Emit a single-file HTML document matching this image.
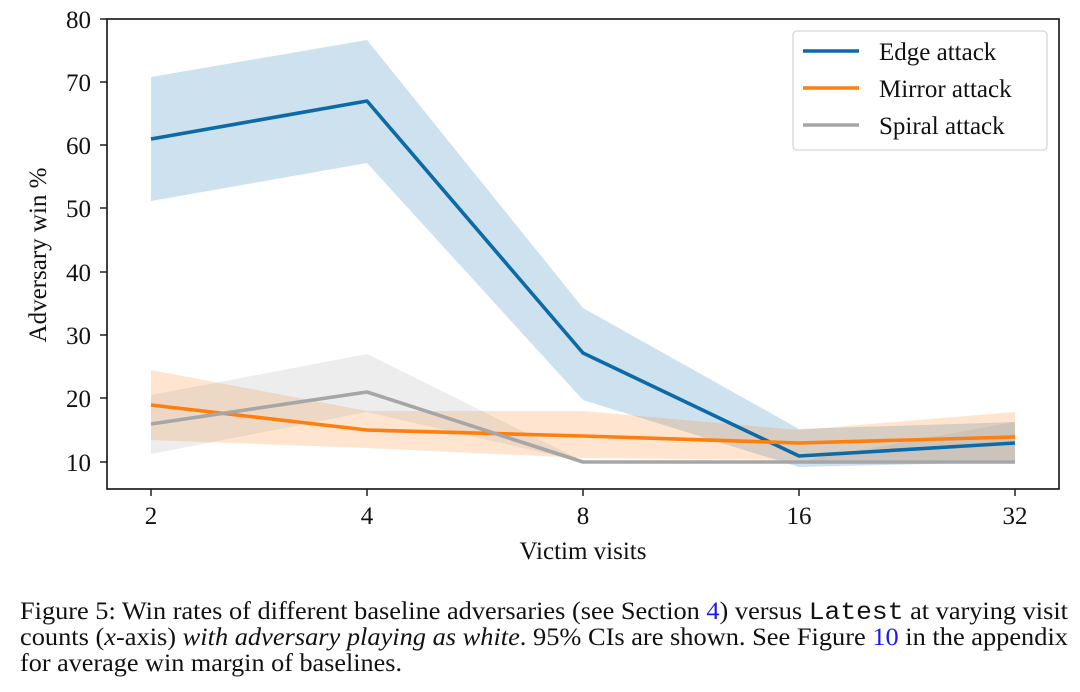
<!DOCTYPE html>
<html><head><style>body{margin:0;background:#fff}svg{display:block}svg text{font-family:"Liberation Serif",serif}</style></head><body>
<svg width="1080" height="692" xmlns="http://www.w3.org/2000/svg" fill="#111">
<g stroke="none">
<polygon fill="#1f77b4" fill-opacity="0.22" points="151,77 367,40 583,308 799,429 1015,422 1015,462 799,467 583,400 367,163 151,201"/>
<polygon fill="#ff7f0e" fill-opacity="0.2" points="151,370 367,411 583,411 799,430 1015,412 1015,460 799,460 583,458 367,448 151,440"/>
<polygon fill="#999" fill-opacity="0.18" points="151,395 367,354 583,461 799,461 1015,422 1015,462 799,462 583,462 367,412 151,454"/>
</g>
<g fill="none" stroke-width="3.6" stroke-linejoin="round">
<polyline stroke="#0c6aa6" points="151,139 367,101 583,353 799,456 1015,443"/>
<polyline stroke="#ff7f0e" points="151,405 367,430 583,436 799,443 1015,437"/>
<polyline stroke="#a6a6a6" points="151,424 367,392 583,462 799,462 1015,462"/>
</g>
<rect x="107" y="19" width="952" height="470" fill="none" stroke="#111" stroke-width="1.6"/>
<g stroke="#111" stroke-width="1.4">
<line x1="100" y1="19" x2="107" y2="19"/><line x1="100" y1="82" x2="107" y2="82"/><line x1="100" y1="145" x2="107" y2="145"/><line x1="100" y1="208" x2="107" y2="208"/><line x1="100" y1="272" x2="107" y2="272"/><line x1="100" y1="335" x2="107" y2="335"/><line x1="100" y1="398" x2="107" y2="398"/><line x1="100" y1="462" x2="107" y2="462"/>
<line x1="151" y1="489" x2="151" y2="496"/><line x1="367" y1="489" x2="367" y2="496"/><line x1="583" y1="489" x2="583" y2="496"/><line x1="799" y1="489" x2="799" y2="496"/><line x1="1015" y1="489" x2="1015" y2="496"/>
</g>
<g font-size="25" text-anchor="end">
<text x="91" y="28">80</text><text x="91" y="91">70</text><text x="91" y="154">60</text><text x="91" y="217">50</text><text x="91" y="281">40</text><text x="91" y="344">30</text><text x="91" y="407">20</text><text x="91" y="471">10</text>
</g>
<g font-size="25" text-anchor="middle">
<text x="151" y="524">2</text><text x="367" y="524">4</text><text x="583" y="524">8</text><text x="799" y="524">16</text><text x="1015" y="524">32</text>
<text x="583" y="559">Victim visits</text>
<text transform="translate(46,255) rotate(-90)">Adversary win %</text>
</g>
<rect x="793" y="31" width="254" height="119" rx="4" fill="#fff" fill-opacity="0.85" stroke="#d6d6d6" stroke-width="1.3"/>
<g stroke-width="3.6"><line x1="803" y1="51" x2="859" y2="51" stroke="#0c6aa6"/><line x1="803" y1="88" x2="859" y2="88" stroke="#ff7f0e"/><line x1="803" y1="125" x2="859" y2="125" stroke="#a6a6a6"/></g>
<g font-size="25"><text x="879" y="60">Edge attack</text><text x="879" y="97">Mirror attack</text><text x="879" y="134">Spiral attack</text></g>
<g font-size="25">
<text x="20" y="619" textLength="1048" lengthAdjust="spacingAndGlyphs">Figure 5: Win rates of different baseline adversaries (see Section <tspan fill="#1a1aee">4</tspan>) versus <tspan style="font-family:'Liberation Mono',monospace">Latest</tspan> at varying visit</text>
<text x="20" y="645" textLength="1048" lengthAdjust="spacingAndGlyphs">counts (<tspan font-style="italic">x</tspan>-axis) <tspan font-style="italic">with adversary playing as white</tspan>. 95% CIs are shown. See Figure <tspan fill="#1a1aee">10</tspan> in the appendix</text>
<text x="20" y="671" textLength="382" lengthAdjust="spacingAndGlyphs">for average win margin of baselines.</text>
</g>
</svg>
</body></html>
